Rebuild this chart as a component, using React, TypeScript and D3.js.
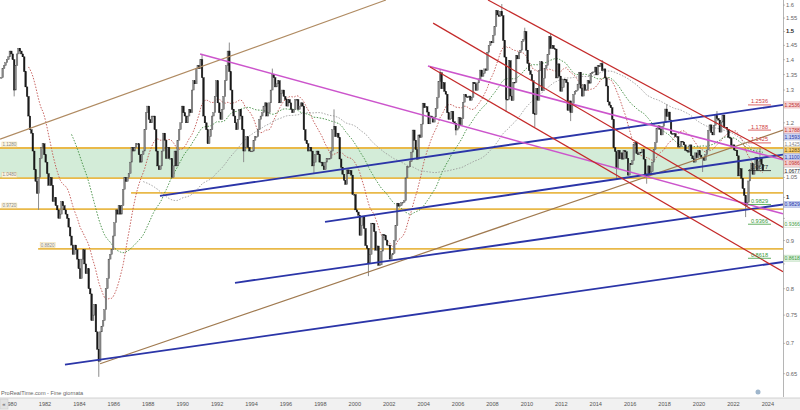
import React from 'react';
import * as d3 from 'd3';

// monthly closes, first candle = June 1979
const firstMonth = 1979 + 5 / 12;
const closes: number[] = [
  1.34, 1.37, 1.38, 1.39, 1.40, 1.41, 1.43, // 1979
  1.42, 1.40, 1.30, 1.38, 1.42, 1.44, 1.43, 1.42, 1.41, 1.36, 1.31, 1.28, // 1980
  1.22, 1.18, 1.17, 1.12, 1.07, 1.04, 1.01, 1.05, 1.10, 1.13, 1.14, 1.11, // 1981
  1.09, 1.06, 1.03, 1.05, 1.03, 0.99, 1.00, 0.98, 0.97, 0.95, 0.96, 0.99, // 1982
  0.98, 0.97, 0.96, 0.95, 0.93, 0.91, 0.89, 0.87, 0.89, 0.88, 0.86, 0.84, // 1983
  0.82, 0.86, 0.88, 0.85, 0.83, 0.84, 0.80, 0.79, 0.74, 0.75, 0.77, 0.72, // 1984
  0.69, 0.67, 0.72, 0.73, 0.74, 0.76, 0.80, 0.82, 0.86, 0.87, 0.88, 0.91, // 1985
  0.94, 0.97, 0.96, 0.98, 0.96, 0.98, 1.02, 1.05, 1.04, 1.05, 1.06, 1.09, // 1986
  1.13, 1.12, 1.13, 1.14, 1.14, 1.11, 1.09, 1.11, 1.12, 1.18, 1.23, 1.25, // 1987
  1.21, 1.20, 1.22, 1.22, 1.18, 1.12, 1.08, 1.07, 1.08, 1.12, 1.17, 1.15, // 1988
  1.10, 1.13, 1.10, 1.10, 1.05, 1.08, 1.12, 1.08, 1.15, 1.18, 1.20, 1.25, // 1989
  1.23, 1.22, 1.20, 1.22, 1.24, 1.23, 1.30, 1.33, 1.32, 1.37, 1.38, 1.37, // 1990
  1.40, 1.34, 1.22, 1.20, 1.18, 1.14, 1.16, 1.18, 1.22, 1.23, 1.28, 1.33, // 1991
  1.26, 1.23, 1.21, 1.24, 1.28, 1.33, 1.38, 1.43, 1.36, 1.30, 1.24, 1.22, // 1992
  1.20, 1.18, 1.21, 1.24, 1.22, 1.18, 1.12, 1.13, 1.16, 1.13, 1.12, 1.12, // 1993
  1.12, 1.15, 1.16, 1.16, 1.18, 1.21, 1.22, 1.23, 1.25, 1.26, 1.22, 1.23, // 1994
  1.26, 1.30, 1.35, 1.34, 1.31, 1.32, 1.33, 1.26, 1.29, 1.30, 1.28, 1.27, // 1995
  1.25, 1.27, 1.26, 1.24, 1.23, 1.24, 1.27, 1.27, 1.24, 1.25, 1.26, 1.25, // 1996
  1.18, 1.15, 1.14, 1.12, 1.13, 1.12, 1.08, 1.09, 1.11, 1.12, 1.11, 1.09, // 1997
  1.09, 1.08, 1.07, 1.09, 1.10, 1.10, 1.10, 1.12, 1.18, 1.19, 1.16, 1.17, // 1998
  1.1577, 1.0985, 1.0765, 1.0583, 1.043, 1.0322, 1.0696, 1.0593, 1.0681, 1.056, 1.0068, 1.007, // 1999
  0.97, 0.965, 0.9575, 0.9115, 0.934, 0.954, 0.927, 0.889, 0.883, 0.852, 0.87, 0.939, // 2000
  0.938, 0.92, 0.879, 0.888, 0.847, 0.848, 0.877, 0.913, 0.911, 0.901, 0.89, 0.89, // 2001
  0.86, 0.869, 0.872, 0.9, 0.933, 0.986, 0.979, 0.98, 0.987, 0.988, 0.992, 1.049, // 2002
  1.078, 1.078, 1.091, 1.117, 1.179, 1.15, 1.124, 1.098, 1.165, 1.158, 1.196, 1.259, // 2003
  1.245, 1.248, 1.232, 1.197, 1.22, 1.217, 1.202, 1.217, 1.243, 1.276, 1.328, 1.356, // 2004
  1.304, 1.324, 1.296, 1.287, 1.23, 1.21, 1.212, 1.234, 1.203, 1.199, 1.179, 1.184, // 2005
  1.215, 1.192, 1.212, 1.262, 1.286, 1.279, 1.277, 1.281, 1.268, 1.277, 1.325, 1.32, // 2006
  1.299, 1.323, 1.336, 1.365, 1.344, 1.354, 1.369, 1.364, 1.426, 1.449, 1.463, 1.459, // 2007
  1.486, 1.518, 1.579, 1.562, 1.556, 1.576, 1.559, 1.468, 1.409, 1.271, 1.27, 1.397, // 2008
  1.281, 1.267, 1.325, 1.324, 1.415, 1.403, 1.425, 1.433, 1.464, 1.472, 1.5, 1.433, // 2009
  1.387, 1.363, 1.351, 1.33, 1.227, 1.224, 1.305, 1.268, 1.363, 1.393, 1.298, 1.338, // 2010
  1.37, 1.381, 1.417, 1.481, 1.439, 1.45, 1.439, 1.437, 1.339, 1.386, 1.345, 1.296, // 2011
  1.308, 1.335, 1.334, 1.324, 1.237, 1.266, 1.23, 1.258, 1.286, 1.295, 1.299, 1.319, // 2012
  1.358, 1.306, 1.281, 1.317, 1.299, 1.301, 1.33, 1.322, 1.353, 1.358, 1.359, 1.375, // 2013
  1.349, 1.38, 1.377, 1.387, 1.363, 1.369, 1.339, 1.313, 1.263, 1.253, 1.245, 1.21, // 2014
  1.129, 1.119, 1.073, 1.122, 1.099, 1.115, 1.098, 1.121, 1.118, 1.1, 1.056, 1.086, // 2015
  1.083, 1.094, 1.138, 1.145, 1.113, 1.11, 1.117, 1.116, 1.124, 1.098, 1.059, 1.052, // 2016
  1.08, 1.058, 1.065, 1.09, 1.124, 1.143, 1.184, 1.191, 1.181, 1.165, 1.19, 1.2, // 2017
  1.241, 1.219, 1.232, 1.208, 1.169, 1.168, 1.169, 1.16, 1.16, 1.131, 1.132, 1.147, // 2018
  1.145, 1.137, 1.122, 1.121, 1.117, 1.137, 1.107, 1.099, 1.09, 1.115, 1.102, 1.121, // 2019
  1.109, 1.103, 1.103, 1.095, 1.11, 1.123, 1.178, 1.194, 1.172, 1.165, 1.193, 1.222, // 2020
  1.213, 1.208, 1.173, 1.202, 1.223, 1.186, 1.187, 1.181, 1.158, 1.156, 1.134, 1.137, // 2021
  1.123, 1.122, 1.107, 1.054, 1.073, 1.048, 1.022, 1.005, 0.98, 0.988, 1.041, 1.07, // 2022
  1.086, 1.058, 1.084, 1.102, 1.069, 1.091, 1.099, 1.084, 1.0677, // 2023
];

// notable intramonth extremes (wicks): month, price
const wickMonths = ['1980-03', '1981-08', '1985-02', '1991-02', '1992-09', '1993-07', '1995-03', '1997-08', '1998-10',
  '2000-10', '2004-12', '2005-11', '2008-07', '2008-10', '2009-11', '2010-06', '2011-05', '2012-07', '2014-05',
  '2015-03', '2016-12', '2018-02', '2020-03', '2021-01', '2022-09', '2023-07'];
const wickPrices = [1.28, 0.97, 0.645, 1.42, 1.46, 1.09, 1.37, 1.06, 1.24,
  0.825, 1.367, 1.164, 1.604, 1.233, 1.514, 1.188, 1.494, 1.205, 1.399,
  1.046, 1.034, 1.256, 1.064, 1.235, 0.953, 1.128];

const priceTicks = [1.6, 1.55, 1.5, 1.45, 1.4, 1.35, 1.3, 1.25, 1.2, 1.15, 1.1, 1.05, 1, 0.95, 0.9, 0.85, 0.8, 0.75, 0.7, 0.65];
const strongTicks = [1.5, 1];
const yearTicks = d3.range(1980, 2025, 2);

// horizontal support / resistance levels: price, first year, left tag
const levelPrices = [1.1283, 1.048, 1.011, 0.972, 0.882];
const levelStarts = [1979.38, 1979.38, 1987.0, 1979.38, 1981.6];
const levelTags = ['1.1280', '1.0480', '', '0.9720', '0.8820'];
const bandPrices = [1.1283, 1.048];

// trend lines: [year, price] -> [year, price]
const trendLines = [
  { color: '#b08b62', w: 1.1, from: [1979.39, 1.153], to: [2001.81, 1.62] },
  { color: '#a07a50', w: 1.2, from: [1985.2, 0.666], to: [2024.88, 1.1788] },
  { color: '#2b35a8', w: 1.8, from: [1988.68, 1.004], to: [2024.88, 1.2536] },
  { color: '#2b35a8', w: 1.8, from: [1998.27, 0.942], to: [2024.88, 1.11] },
  { color: '#2b35a8', w: 1.8, from: [1993.04, 0.8117], to: [2024.88, 0.9829] },
  { color: '#2b35a8', w: 1.8, from: [1983.16, 0.6645], to: [2024.88, 0.854] },
  { color: '#cc55cc', w: 1.5, from: [1991.01, 1.42], to: [2024.88, 0.9605] },
  { color: '#cc55cc', w: 1.5, from: [2004.25, 1.379], to: [2024.88, 1.096] },
  { color: '#c42a2a', w: 1.2, from: [2007.74, 1.62], to: [2024.88, 1.0986] },
  { color: '#c42a2a', w: 1.2, from: [2004.55, 1.531], to: [2024.88, 0.929] },
  { color: '#c42a2a', w: 1.2, from: [2004.37, 1.375], to: [2024.88, 0.834] },
];

const maPeriods = [20, 50, 100];
const maColors = ['#c0504d', '#3c8a3c', '#9a9a9a'];

// underlined price notes drawn inside the chart
const noteValues = [1.2536, 1.1788, 1.1425, 1.0677, 0.9829, 0.9366, 0.8618];
const noteColors = ['#d04040', '#d04040', '#d04040', '#222222', '#3a9a3a', '#3a9a3a', '#3a9a3a'];

// tags on the price axis
const tagValues = [1.2536, 1.1788, 1.1593, 1.1425, 1.1283, 1.11, 1.0986, 1.0677, 0.9829, 0.9366, 0.8618];
const tagFills = ['#f6d3d3', '#f6d3d3', '#c9d3f2', '#ffffff', '#f7cf77', '#c9d3f2', '#f6d3d3', '#ffffff', '#c9d3f2', '#ffffff', '#dff0df'];
const tagInk = ['#c03030', '#c03030', '#2b35a8', '#888888', '#6a4a00', '#2b35a8', '#c03030', '#111111', '#2b35a8', '#3a9a3a', '#3a9a3a'];

const W = 800;
const H = 410;
const PR = 783;
const PB = 397;

export default function App() {
  const x = d3.scaleLinear().domain([1979.385, 2024.88]).range([0, PR]);
  const y = d3.scaleLog().domain([1.62, 0.614]).range([0, PB]);
  const monthX = (i: number) => x(firstMonth + (i + 0.5) / 12);
  const monthIndex = (s: string) => {
    const [yy, mm] = s.split('-').map(Number);
    return (yy - 1979) * 12 + (mm - 1) - 5;
  };

  const candles = closes.map((c, i) => {
    const o = i === 0 ? c : closes[i - 1];
    return { i, o, c };
  });

  const mas = maPeriods.map(n =>
    closes.map((_, i) => (i < n - 1 ? null : d3.mean(closes.slice(i - n + 1, i + 1)) as number))
  );
  const maLine = d3.line<number | null>()
    .defined(d => d !== null)
    .x((_, i) => monthX(i))
    .y(d => y(d as number));

  // keep axis tags from sitting on top of each other
  const tagOrder = d3.range(tagValues.length).sort((a, b) => y(tagValues[a]) - y(tagValues[b]));
  const tagY: number[] = [];
  let last = -100;
  tagOrder.forEach(k => {
    const yy = Math.max(y(tagValues[k]), last + 6.6);
    tagY[k] = yy;
    last = yy;
  });
  // tick labels hidden behind a tag, as on the original
  const visibleTicks = priceTicks.filter(t => tagY.every(ty => Math.abs(ty - y(t)) > 6));

  const font = 'Arial, "Liberation Sans", sans-serif';

  return (
    <svg width={W} height={H} style={{ position: 'absolute', left: 0, top: 0, background: '#fff' }} fontFamily={font}>
      <defs>
        <clipPath id="plot"><rect x={0} y={0} width={PR} height={PB} /></clipPath>
      </defs>
      <g clipPath="url(#plot)">
        <rect x={0} y={y(bandPrices[0])} width={PR} height={y(bandPrices[1]) - y(bandPrices[0])} fill="#d3ecd8" />
        {levelPrices.map((p, k) => (
          <line key={'lv' + k} x1={x(levelStarts[k])} x2={PR} y1={y(p)} y2={y(p)} stroke="#e9b949" strokeWidth={1.8} />
        ))}
        {mas.map((m, k) => (
          <path key={'ma' + k} d={maLine(m) || ''} fill="none" stroke={maColors[k]} strokeWidth={0.9} strokeDasharray="1.5,1.5" />
        ))}
        {wickMonths.map((m, k) => {
          const i = monthIndex(m);
          const c = closes[i];
          const o = i === 0 ? c : closes[i - 1];
          const edge = wickPrices[k] > Math.max(o, c) ? Math.max(o, c) : Math.min(o, c);
          return (
            <line key={'wk' + k} x1={monthX(i)} x2={monthX(i)} y1={y(edge)} y2={y(wickPrices[k])} stroke="#8c8c8c" strokeWidth={1} />
          );
        })}
        {candles.map(d => {
          const top = y(Math.max(d.o, d.c));
          const h = Math.max(0.8, y(Math.min(d.o, d.c)) - top);
          const up = d.c >= d.o;
          return (
            <rect key={'c' + d.i} x={monthX(d.i) - 0.8} y={top} width={1.6} height={h}
              fill={up ? '#8a8a8a' : '#1a1a1a'} stroke={up ? '#555' : '#111'} strokeWidth={0.4} />
          );
        })}
        {trendLines.map((t, k) => (
          <line key={'tl' + k} x1={x(t.from[0])} y1={y(t.from[1])} x2={x(t.to[0])} y2={y(t.to[1])}
            stroke={t.color} strokeWidth={t.w} />
        ))}
        {levelTags.map((t, k) => t && (
          <g key={'lt' + k}>
            <rect x={x(levelStarts[k]) + 2} y={y(levelPrices[k]) - 6} width={15} height={5} fill="#fbf6e6" stroke="#e9cf8a" strokeWidth={0.4} />
            <text x={x(levelStarts[k]) + 9.5} y={y(levelPrices[k]) - 2} fontSize={4.5} fill="#888" textAnchor="middle">{t}</text>
          </g>
        ))}
        {noteValues.map((v, k) => (
          <g key={'nt' + k}>
            <line x1={748} x2={771} y1={y(v)} y2={y(v)} stroke={noteColors[k]} strokeWidth={0.8} />
            <text x={759.5} y={y(v) - 1.5} fontSize={5.6} fill={noteColors[k]} textAnchor="middle">{v.toFixed(4)}</text>
          </g>
        ))}
      </g>

      {/* price axis */}
      <line x1={PR + 0.5} x2={PR + 0.5} y1={0} y2={PB} stroke="#b5b5b5" strokeWidth={1} />
      {priceTicks.map(t => (
        <line key={'pm' + t} x1={PR} x2={PR + 2} y1={y(t)} y2={y(t)} stroke="#999" strokeWidth={0.6} />
      ))}
      {visibleTicks.map(t => (
        <text key={'pt' + t} x={PR + 3} y={y(t) + 2} fontSize={5.8} fill={strongTicks.includes(t) ? '#222' : '#666'}
          fontWeight={strongTicks.includes(t) ? 'bold' : 'normal'}>{String(t)}</text>
      ))}
      {tagValues.map((v, k) => (
        <g key={'tg' + k}>
          <rect x={PR + 1} y={tagY[k] - 3.2} width={16} height={6.4} fill={tagFills[k]} stroke={tagInk[k]} strokeOpacity={0.35} strokeWidth={0.4} />
          <text x={PR + 1.6} y={tagY[k] + 2} fontSize={5} fill={tagInk[k]}>{v.toFixed(4)}</text>
        </g>
      ))}

      {/* time axis */}
      <text x={1} y={395} fontSize={5.6} fill="#666">ProRealTime.com - Fine giornata</text>
      <circle cx={758} cy={392} r={2.5} fill="#9fb6cc" />
      <rect x={0} y={PB + 1} width={W} height={H - PB - 1} fill="#f1f1f1" />
      <line x1={0} x2={W} y1={PB + 1} y2={PB + 1} stroke="#c8c8c8" strokeWidth={0.8} />
      {yearTicks.map(yr => (
        <text key={'yr' + yr} x={x(yr)} y={406} fontSize={5.6} fill="#555" textAnchor="middle">{yr}</text>
      ))}
      <rect x={0} y={PB + 2} width={8} height={10} fill="#e2e2e2" stroke="#c8c8c8" strokeWidth={0.5} />
      <text x={4} y={406} fontSize={6} fill="#555" textAnchor="middle">«</text>
    </svg>
  );
}
